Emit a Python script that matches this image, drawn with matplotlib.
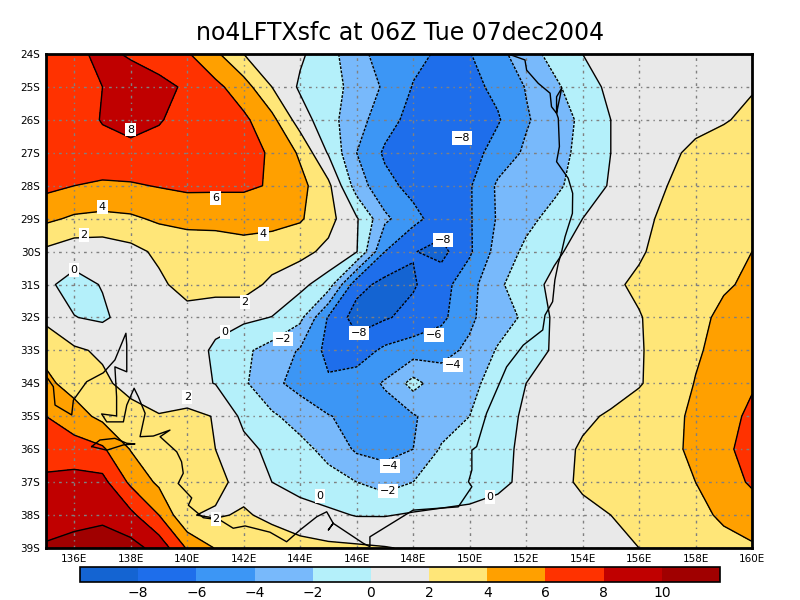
import matplotlib
matplotlib.use('Agg')
import matplotlib.pyplot as plt
import numpy as np

lons = list(range(135, 161))
lats = list(range(24, 40))

# no4LFTXsfc, one row per latitude (135E..160E)
lftx_24s = [7.0, 7.6, 8.4, 7.8, 7.0, 6.2, 4.4, 2.0, 1.1, 0.3, -1.2, -3.4, -4.8, -5.5, -6.3, -6.1, -4.6, -2.9, -1.3, 0.0, 0.6, 1.0, 1.1, 1.2, 1.3, 1.4]
lftx_25s = [7.0, 7.4, 8.0, 8.9, 8.6, 7.7, 6.5, 4.9, 2.0, -0.3, -1.3, -2.6, -4.3, -6.1, -6.9, -6.6, -5.5, -3.9, -2.4, -0.8, 0.4, 1.0, 1.2, 1.4, 1.6, 1.9]
lftx_26s = [6.8, 7.2, 8.1, 8.6, 8.1, 7.5, 7.0, 6.4, 4.6, 1.0, -1.3, -3.2, -5.2, -6.7, -8.0, -7.9, -6.2, -4.2, -3.0, -1.6, 0.0, 0.8, 1.3, 1.6, 1.9, 2.3]
lftx_27s = [6.8, 7.0, 7.4, 7.5, 7.5, 7.3, 7.0, 6.6, 5.8, 3.7, -0.2, -4.0, -6.3, -7.0, -7.3, -6.9, -5.1, -3.7, -2.7, -1.5, 0.0, 0.8, 1.7, 2.3, 2.6, 2.8]
lftx_28s = [6.5, 6.0, 5.7, 5.8, 6.1, 6.4, 6.4, 6.4, 5.8, 4.6, 2.5, -3.0, -5.4, -6.6, -7.0, -6.2, -3.7, -3.2, -2.4, -1.2, 0.2, 1.0, 2.0, 2.5, 2.8, 3.1]
lftx_29s = [4.4, 3.7, 3.5, 3.7, 4.3, 4.5, 4.4, 4.4, 4.5, 4.2, 2.7, 0.2, -3.6, -5.4, -7.0, -6.2, -3.8, -2.5, -1.4, 0.0, 0.8, 1.5, 2.4, 2.8, 3.2, 3.5]
lftx_30s = [1.6, 0.8, 0.8, 1.4, 2.4, 3.0, 3.3, 3.6, 3.2, 2.6, 1.5, 0.1, -6.0, -7.9, -8.6, -6.3, -3.2, -1.6, -0.3, 0.6, 1.2, 1.8, 2.6, 3.0, 3.5, 4.0]
lftx_31s = [0.3, -0.6, 0.1, 0.9, 1.6, 2.8, 3.0, 3.0, 1.5, 0.5, -1.0, -7.3, -8.6, -8.2, -6.8, -4.7, -2.4, -0.7, 0.4, 1.0, 1.7, 2.3, 2.9, 3.3, 3.8, 4.3]
lftx_32s = [1.5, 0.05, -0.3, 0.8, 1.1, 1.2, 0.4, 0.4, -0.05, -1.5, -6.2, -8.9, -8.2, -7.4, -6.5, -4.3, -3.0, -1.6, 0.3, 0.9, 1.4, 1.9, 2.7, 3.5, 4.4, 5.0]
lftx_33s = [3.5, 2.3, 1.7, 1.1, 0.7, 0.6, -0.2, -1.6, -2.8, -4.2, -6.6, -7.0, -5.6, -5.0, -4.5, -3.7, -1.8, -0.8, 0.2, 0.7, 1.4, 1.85, 2.7, 3.7, 4.8, 5.6]
lftx_34s = [4.4, 3.3, 2.4, 1.3, 0.9, 0.5, -0.05, -1.7, -3.5, -4.7, -5.7, -5.0, -3.8, -1.3, -3.2, -2.4, -1.4, 0.0, 0.5, 0.8, 1.3, 1.9, 2.6, 4.1, 5.0, 5.8]
lftx_35s = [6.0, 4.8, 3.5, 2.8, 2.1, 2.5, 1.9, -0.5, -1.7, -2.8, -3.9, -4.6, -4.8, -4.2, -3.0, -2.0, -0.8, 0.3, 0.8, 1.7, 2.2, 2.6, 3.2, 4.5, 5.3, 6.4]
lftx_36s = [7.3, 6.9, 6.3, 3.9, 3.2, 2.7, 2.0, 0.6, -0.5, -1.4, -2.6, -4.3, -4.7, -4.0, -1.8, -1.2, -0.4, 0.3, 1.4, 2.2, 2.6, 3.0, 3.5, 4.4, 5.5, 6.9]
lftx_37s = [8.3, 8.7, 8.6, 5.6, 3.6, 3.0, 2.5, 1.4, 0.0, -0.7, -1.3, -2.0, -2.8, -2.0, -1.5, -1.0, -0.4, 0.4, 1.4, 2.3, 2.7, 3.1, 3.5, 4.0, 5.0, 6.3]
lftx_38s = [9.2, 9.5, 9.6, 8.5, 6.0, 2.1, 1.8, 2.2, 1.6, 0.8, 0.4, -0.1, -0.1, 0.2, 0.4, 0.5, 0.7, 1.0, 1.3, 1.5, 2.0, 2.5, 3.0, 3.5, 4.3, 4.8]
lftx_39s = [10.2, 10.5, 10.9, 10.7, 9.3, 5.8, 3.9, 3.3, 3.0, 2.7, 2.4, 2.3, 2.1, 1.8, 1.2, 1.0, 1.0, 1.0, 1.3, 1.3, 1.6, 2.0, 2.5, 3.0, 3.4, 3.8]

fill_levels = [-10, -8, -6, -4, -2, 0, 2, 4, 6, 8, 10, 12]
line_levels = [-8, -6, -4, -2, 0, 2, 4, 6, 8, 10]
fill_colors = ['#1464d2', '#1e6eeb', '#3c96f5', '#78b9fb', '#b4f0fa', '#e9e9e9',
               '#ffe678', '#ffa000', '#ff3200', '#c00000', '#a00000']

# coastline pieces, lon / lat south
coast_lon = [151.37, 151.96, 152.02, 152.43, 152.85, 152.9, 153.08, 153.26, 153.08, 153.08, 153.14, 153.18, 153.08, 153.49, 153.65, 153.64, 153.38, 153.26, 153.14, 153.02, 152.94, 152.67, 152.59, 151.9, 151.31, 150.6, 150.25, 150.08, 150.08, 149.96, 150.08, 149.6, 148.0, 146.47, 146.47, 146.24, 145.17, 145.0, 145.17, 144.94, 144.59, 144.0, 143.52, 142.93, 142.05, 141.63, 141.16, 140.57, 140.04, 140.16, 139.68, 139.86, 139.8, 139.63, 139.04, 139.39, 138.8, 138.33, 138.51, 138.27, 138.12, 137.86, 137.74, 137.15, 136.97, 137.5, 137.5, 137.44, 137.86, 137.86, 137.83, 137.44, 137.03, 136.44, 135.97, 135.91, 135.32, 135.26, 135.02]
coast_lat = [24.0, 24.18, 24.49, 24.89, 25.19, 25.6, 25.8, 25.04, 25.3, 25.8, 25.95, 26.81, 27.27, 27.77, 28.23, 28.84, 29.55, 30.0, 30.36, 30.86, 31.52, 31.93, 32.38, 32.84, 33.5, 34.91, 35.92, 36.03, 36.63, 36.99, 37.14, 37.75, 37.85, 38.66, 38.96, 38.86, 38.25, 38.45, 38.25, 37.9, 38.05, 38.45, 38.81, 38.52, 38.33, 38.4, 38.15, 38.08, 37.7, 37.48, 37.04, 36.73, 36.38, 36.08, 35.62, 35.42, 35.6, 35.62, 34.91, 34.41, 34.15, 34.66, 35.17, 35.17, 34.93, 34.99, 34.41, 33.5, 33.65, 32.84, 32.48, 33.29, 33.68, 33.95, 34.51, 34.96, 34.66, 34.1, 33.8]
island_lon = [136.62, 136.91, 137.44, 137.86, 138.15, 137.74, 137.15, 136.62]
island_lat = [35.92, 35.72, 35.67, 35.82, 35.84, 35.87, 36.03, 35.92]

# contour labels
label_text = ['8', '6', '4', '4', '2', '2', '0', '0', '\u22122', '\u22128', '\u22128', '\u22128', '\u22126', '\u22124', '\u22124', '\u22122', '0', '0', '2', '2']
label_lon = [138.0, 141.0, 137.0, 142.7, 136.35, 142.05, 136.0, 141.34, 143.4, 149.73, 149.06, 146.08, 148.74, 149.41, 147.18, 147.11, 144.7, 150.72, 140.0, 141.02]
label_lat = [26.3, 28.37, 28.65, 29.47, 29.5, 31.53, 30.56, 32.44, 32.65, 26.55, 29.65, 32.47, 32.53, 33.44, 36.51, 37.27, 37.42, 37.45, 34.42, 38.12]

lon_ticks = list(range(136, 161, 2))
lat_ticks = list(range(24, 40))

lftx = np.array([lftx_24s, lftx_25s, lftx_26s, lftx_27s, lftx_28s, lftx_29s, lftx_30s, lftx_31s,
                 lftx_32s, lftx_33s, lftx_34s, lftx_35s, lftx_36s, lftx_37s, lftx_38s, lftx_39s])

fig = plt.figure(figsize=(8, 6), dpi=100)
ax = fig.add_axes([46 / 800, 1 - 548 / 600, 706 / 800, 494 / 600])

cf = ax.contourf(lons, lats, lftx, levels=fill_levels, colors=fill_colors)
ax.contour(lons, lats, lftx, levels=line_levels, colors='k', linewidths=1,
           negative_linestyles=(0, (2, 1)), zorder=3)
ax.plot(coast_lon, coast_lat, color='k', lw=1, zorder=4)
ax.plot(island_lon, island_lat, color='k', lw=1, zorder=4)

for t, x, y in zip(label_text, label_lon, label_lat):
    ax.text(x, y, t, ha='center', va='center', fontsize=8, zorder=5,
            bbox=dict(facecolor='white', edgecolor='none', pad=1.2))

ax.set_xlim(135, 160)
ax.set_ylim(39, 24)
ax.set_xticks(lon_ticks)
ax.set_xticklabels(['%dE' % v for v in lon_ticks], fontsize=7.5)
ax.set_yticks(lat_ticks)
ax.set_yticklabels(['%dS' % v for v in lat_ticks], fontsize=7.5)
ax.tick_params(length=0, pad=4)
ax.grid(True, color='#808080', lw=1, linestyle=(0, (2, 3, 1, 3)), zorder=2)
ax.set_axisbelow(False)
for s in ax.spines.values():
    s.set_linewidth(2)
    s.set_zorder(6)

fig.text(400 / 800, 1 - 33 / 600, 'no4LFTXsfc at 06Z Tue 07dec2004', ha='center', va='center', fontsize=17)

cax = fig.add_axes([80 / 800, 1 - 582 / 600, 640 / 800, 15 / 600])
cb = fig.colorbar(cf, cax=cax, orientation='horizontal', ticks=line_levels)
cb.ax.tick_params(length=0, labelsize=10, pad=3)
cb.outline.set_linewidth(1.2)
cb.dividers.set_visible(False)

fig.savefig('out.png', dpi=100)
